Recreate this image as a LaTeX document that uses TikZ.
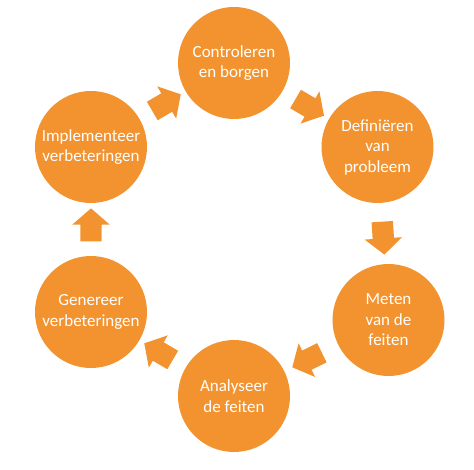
\documentclass[tikz,border=0pt]{standalone}
\usepackage{fontspec}
\setmainfont{Carlito}
\usetikzlibrary{shapes.arrows, positioning}
\definecolor{cyclusoranje}{HTML}{F29330}
\tikzset{
  % Cirkels van de cyclus
  stap/.style={circle, fill=cyclusoranje, text=white, minimum size=112, inner sep=0,
    align=center, font=\fontsize{17}{20.5}\selectfont},
  % Blokpijlen tussen de stappen
  pijl/.style={single arrow, fill=cyclusoranje, draw=none, sloped, allow upside down,
    inner xsep=0, inner ysep=10.5, minimum height=33, minimum width=37,
    single arrow head extend=8, single arrow tip angle=98}
}

\begin{document}
\begin{tikzpicture}[x=1pt, y=-1pt]
    \useasboundingbox (0,0) rectangle (474,470);
    \node[stap] (ctrl) at (234,63) {Controleren\\en borgen};
    \node[stap] (def) at (377.5,147) {Definiëren\\van\\probleem};
    \node[stap] (meet) at (388.5,320) {Meten\\van de\\feiten};
    \node[stap] (anal) at (234,396) {Analyseer\\de feiten};
    \node[stap] (gen) at (91,312) {Genereer\\verbeteringen};
    \node[stap] (impl) at (91,147) {Implementeer\\verbeteringen};
    \path (ctrl) -- node[pijl] {} (def);
    \path (def) -- node[pijl] {} (meet);
    \path (meet) -- node[pijl] {} (anal);
    \path (anal) -- node[pijl] {} (gen);
    \path (gen) -- node[pijl] {} (impl);
    \path (impl) -- node[pijl] {} (ctrl);
\end{tikzpicture}
\end{document}
